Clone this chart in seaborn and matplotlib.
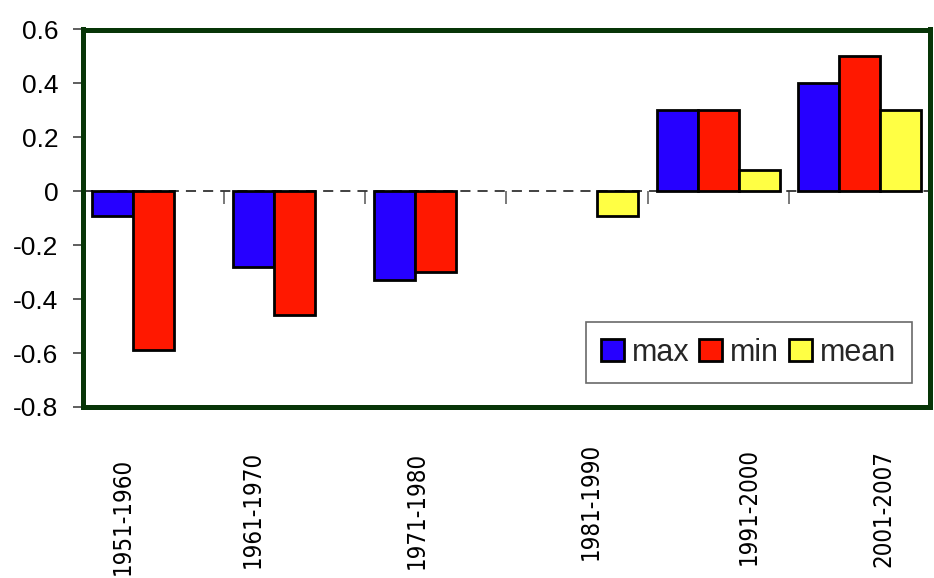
import numpy as np
import pandas as pd
import matplotlib
matplotlib.use("Agg")
import matplotlib.pyplot as plt
from matplotlib.patches import Patch
from matplotlib.transforms import ScaledTranslation
import seaborn as sns

# ---------------- data ----------------
periods = ["1951-1960", "1961-1970", "1971-1980", "1981-1990", "1991-2000", "2001-2007"]
series_names = ["max", "min", "mean"]
max_vals = [-0.09, -0.28, -0.33, np.nan, 0.30, 0.40]
min_vals = [-0.59, -0.46, -0.30, np.nan, 0.30, 0.50]
mean_vals = [np.nan, np.nan, np.nan, -0.09, 0.08, 0.30]
ytick_values = [-0.8, -0.6, -0.4, -0.2, 0.0, 0.2, 0.4, 0.6]
ytick_labels = ["-0.8", "-0.6", "-0.4", "-0.2", "0", "0.2", "0.4", "0.6"]

# ---------------- style ----------------
colors = ["#2600ff", "#ff1800", "#ffff44"]
frame_color = "#073507"
# per-label pixel offsets of the rotated category labels (layout only)
label_dx_px = [-30.8, -41.4, -18.6, 14.1, 30.9, 23.6]
label_dy_px = [51, 44, 45, 36, 41, 43]

sns.set_theme(style="white")
plt.rcParams["font.family"] = ["Liberation Sans", "DejaVu Sans"]

df = pd.DataFrame({
    "period": periods * 3,
    "series": [s for s in series_names for _ in periods],
    "value": list(max_vals) + list(min_vals) + list(mean_vals),
}).dropna()

W, H = 934, 578
fig = plt.figure(figsize=(W / 100, H / 100), dpi=100)
ax = fig.add_axes([82.5 / W, 1 - 407 / H, (930 - 82.5) / W, (407 - 29.5) / H])
ax.set_facecolor("white")

sns.barplot(data=df, x="period", y="value", hue="series", order=periods,
            hue_order=series_names, palette=dict(zip(series_names, colors)),
            saturation=1, width=0.87, errorbar=None, edgecolor="black",
            linewidth=2, legend=False, ax=ax, zorder=3)

ax.set_xlim(-0.5, len(periods) - 0.5)
ax.set_ylim(-0.8, 0.6)
ax.axhline(0, color="#333333", lw=1.3, dashes=(5.6, 3.9), zorder=1)
ax.grid(False)
ax.set_xlabel("")
ax.set_ylabel("")

for s in ax.spines.values():
    s.set_visible(True)
    s.set_color(frame_color)
    s.set_linewidth(3.6)
    s.set_zorder(5)

ax.set_yticks(ytick_values)
ax.set_yticklabels(ytick_labels)
ax.tick_params(axis="y", left=True, direction="out", length=7.5, width=1.1,
               color="#333333", pad=10, labelsize=19, labelcolor="black")

ax.set_xticks(range(len(periods)))
ax.set_xticklabels(periods, rotation=90, fontsize=17.2, color="black",
                   fontfamily="DejaVu Sans", fontstretch="condensed")
ax.tick_params(axis="x", bottom=False, length=0, pad=0)
for lab, dx, dy in zip(ax.get_xticklabels(), label_dx_px, label_dy_px):
    lab.set_transform(lab.get_transform() +
                      ScaledTranslation(dx / 100, -dy / 100, fig.dpi_scale_trans))

# category-boundary ticks on the zero line
ymin, ymax = ax.get_ylim()
sec = ax.secondary_xaxis((0 - ymin) / (ymax - ymin))
sec.set_xticks(np.arange(0.5, len(periods) - 0.5, 1.0))
sec.set_xticklabels([])
sec.tick_params(axis="x", direction="in", length=9, width=1.1, color="#555555")
for s in sec.spines.values():
    s.set_visible(False)

handles = [Patch(facecolor=c, edgecolor="black", linewidth=2, label=n)
           for c, n in zip(colors, series_names)]
leg = ax.legend(handles=handles, loc="center", bbox_to_anchor=(0.786, 0.144),
                ncol=3, fontsize=22, frameon=True, fancybox=False,
                edgecolor="#444444", handlelength=0.75, handleheight=0.75,
                handletextpad=0.26, columnspacing=0.33, borderpad=0.5,
                borderaxespad=0)
leg.get_frame().set_linewidth(1.2)
leg.set_zorder(6)

fig.savefig("out.png", dpi=100)
